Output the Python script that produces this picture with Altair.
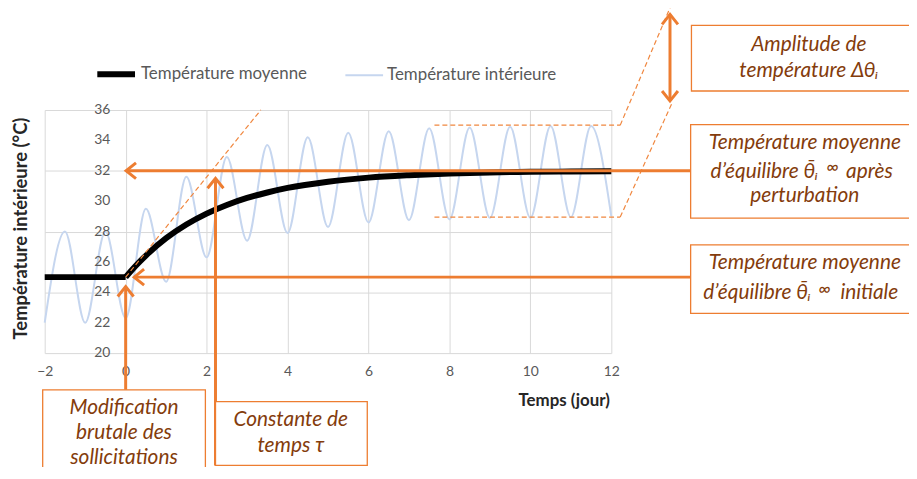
import altair as alt
import pandas as pd

# ---------------- values ----------------
series_names = ["Température moyenne", "Température intérieure"]
series_colors = ["#000000", "#C6D6EF"]
series_widths = [6, 2]

# interior temperature: successive troughs / peaks (day, °C)
int_t = [-2, -1.5, -1, -0.5, 0, 0.5, 1, 1.5, 2, 2.5, 3, 3.5, 4, 4.5, 5, 5.5,
         6, 6.5, 7, 7.5, 8, 8.5, 9, 9.5, 10, 10.5, 11, 11.5, 12]
int_v = [22.0, 28.0, 22.0, 28.0, 22.3, 29.5, 24.7, 31.6, 26.3, 32.9, 27.4, 33.7,
         27.9, 34.2, 28.3, 34.5, 28.6, 34.6, 28.75, 34.8, 28.8, 34.85, 28.9,
         34.9, 28.9, 34.95, 28.95, 34.95, 29.0]

# mean temperature (flat part, then the rise after the step)
mean_flat_t = [-2, 0]
mean_flat_v = [25.0, 25.0]
mean_rise_t = [0, 0.25, 0.5, 1, 1.5, 2, 2.5, 3, 3.5, 4, 5, 6, 7, 8, 9, 10, 11, 12]
mean_rise_v = [25.0, 25.75, 26.42, 27.56, 28.46, 29.18, 29.75, 30.21, 30.57,
               30.87, 31.28, 31.55, 31.71, 31.82, 31.89, 31.93, 31.95, 31.97]

x_ticks = [-2, 0, 2, 4, 6, 8, 10, 12]
y_ticks = [20, 22, 24, 26, 28, 30, 32, 34, 36]
y_label_t = -0.38   # the value axis crosses the time axis at 0

# annotation arrows (data units)
arrow_t1 = [0.01, 0.21, 0.0, 2.22, 13.45]
arrow_v1 = [32.0, 25.0, 24.38, 31.5, 42.29]
arrow_t2 = [13.96, 13.96, 0.0, 2.22, 13.45]
arrow_v2 = [32.0, 25.0, 17.58, 12.61, 36.6]

head_t = [0.01, 0.21, 0.0, 2.22, 13.45, 13.45]
head_v = [32.0, 25.0, 24.38, 31.5, 42.29, 36.6]
head_dir = ["left", "left", "up", "up", "up", "down"]

# dashed construction lines
dash_t1 = [0.0, 7.63, 12.22, 7.63, 12.22]
dash_v1 = [25.0, 35.0, 35.0, 28.95, 28.95]
dash_t2 = [3.34, 12.22, 13.51, 12.22, 13.49]
dash_v2 = [36.0, 35.0, 43.1, 28.95, 36.4]

# text boxes
box_t1 = [13.98, 13.96, 13.96, -2.05, 2.22]
box_t2 = [19.9, 19.9, 19.9, 1.97, 5.97]
box_v1 = [41.57, 35.03, 27.12, 17.58, 16.8]
box_v2 = [37.25, 28.89, 22.61, 10.0, 12.61]

theta = "\u03b8\u0304\u1d62"
center_t = [16.88, 16.88, 16.78, 16.78, 16.78, -0.04, -0.04, -0.04, 4.08, 4.08]
center_v = [40.26, 38.56, 33.81, 30.33, 25.92, 16.36, 14.71, 13.07, 15.58, 13.86]
center_txt = ["Amplitude de", "température \u0394\u03b8\u1d62",
              "Température moyenne", "perturbation", "Température moyenne",
              "Modification", "brutale des", "sollicitations",
              "Constante de", "temps \u03c4"]
right_t = [17.11, 16.93]
right_v = [31.90, 23.92]
right_txt = ["d\u2019équilibre " + theta, "d\u2019équilibre " + theta]
left_t = [17.80, 17.66]
left_v = [31.90, 23.92]
left_txt = ["après", "initiale"]
sup_t = [17.47, 17.27]
sup_v = [32.16, 24.12]
sup_txt = ["\u221e", "\u221e"]

# ---------------- chart ----------------
ORANGE = "#ED7D31"
BROWN = "#843C0C"

xs = alt.Scale(domain=[-2, 12], nice=False, zero=False)
ys = alt.Scale(domain=[20, 36], nice=False, zero=False)

x_axis = alt.Axis(values=x_ticks, title="Temps (jour)", grid=True, gridColor="#D9D9D9",
                  domain=False, ticks=False, tickSize=0, labelFlush=False,
                  labelOverlap=False,
                  labelFontSize=14, labelColor="#595959", labelPadding=12,
                  titleFontSize=17, titleFontWeight="bold", titleColor="#262626",
                  titleX=569, titleY=53, titleAlign="right", titleBaseline="alphabetic")
y_axis = alt.Axis(values=y_ticks, title="Température intérieure (°C)", grid=True,
                  gridColor="#D9D9D9", domain=False, ticks=False, tickSize=0,
                  labels=False,
                  titleFontSize=18.5, titleFontWeight="bold", titleColor="#262626",
                  titleX=-24, titleY=119, titleAngle=270, titleAlign="center",
                  titleBaseline="middle")

leg = alt.Legend(orient="none", legendX=50, legendY=-58, direction="horizontal",
                 title=None, symbolType="stroke", symbolSize=1444,
                 labelFontSize=17, labelColor="#595959", labelOffset=3,
                 labelLimit=400, columnPadding=34, padding=0)

color_enc = alt.Color("series:N", scale=alt.Scale(domain=series_names, range=series_colors), legend=leg)
width_enc = alt.StrokeWidth("series:N", scale=alt.Scale(domain=series_names, range=series_widths), legend=leg)

int_df = pd.DataFrame({"t": int_t, "v": int_v, "series": series_names[1], "seg": "int"})
mean_df = pd.concat([
    pd.DataFrame({"t": mean_flat_t, "v": mean_flat_v, "series": series_names[0], "seg": "flat"}),
    pd.DataFrame({"t": mean_rise_t, "v": mean_rise_v, "series": series_names[0], "seg": "rise"}),
])

blue = alt.Chart(int_df).mark_line(interpolate="monotone").encode(
    x=alt.X("t:Q", scale=xs, axis=x_axis),
    y=alt.Y("v:Q", scale=ys, axis=y_axis),
    color=color_enc, strokeWidth=width_enc, detail="seg:N")

black = alt.Chart(mean_df).mark_line(interpolate="monotone", strokeCap="butt").encode(
    x=alt.X("t:Q"), y=alt.Y("v:Q"),
    color=color_enc, strokeWidth=width_enc, detail="seg:N")

ylab_df = pd.DataFrame({"t": y_label_t, "v": y_ticks, "lab": [str(v) for v in y_ticks]})
ylabels = alt.Chart(ylab_df).mark_text(align="right", baseline="middle", fontSize=14,
                                       color="#595959").encode(
    x="t:Q", y="v:Q", text="lab:N")

dash_df = pd.DataFrame({"t": dash_t1, "v": dash_v1, "t2": dash_t2, "v2": dash_v2})
dashed = alt.Chart(dash_df).mark_rule(color="#F0873F", strokeWidth=1.2, strokeDash=[5, 3]).encode(
    x="t:Q", y="v:Q", x2="t2:Q", y2="v2:Q")

arrow_df = pd.DataFrame({"t": arrow_t1, "v": arrow_v1, "t2": arrow_t2, "v2": arrow_v2})
arrows = alt.Chart(arrow_df).mark_rule(color=ORANGE, strokeWidth=3).encode(
    x="t:Q", y="v:Q", x2="t2:Q", y2="v2:Q")

head_df = pd.DataFrame({"t": head_t, "v": head_v, "dir": head_dir})
heads = alt.Chart(head_df).mark_point(filled=False, stroke=ORANGE, strokeWidth=3,
                                      opacity=1, size=400).encode(
    x="t:Q", y="v:Q",
    shape=alt.Shape("dir:N", scale=alt.Scale(
        domain=["left", "up", "down"],
        range=["M1,-0.8L0,0L1,0.8", "M-0.8,1L0,0L0.8,1", "M-0.8,-1L0,0L0.8,-1"]),
        legend=None))

box_df = pd.DataFrame({"t": box_t1, "t2": box_t2, "v": box_v1, "v2": box_v2})
boxes = alt.Chart(box_df).mark_rect(fill="white", stroke=ORANGE, strokeWidth=1.3).encode(
    x="t:Q", x2="t2:Q", y="v:Q", y2="v2:Q")


def texts(ts, vs, txt, align, size=21):
    df = pd.DataFrame({"t": ts, "v": vs, "txt": txt})
    return alt.Chart(df).mark_text(align=align, baseline="middle", fontSize=size,
                                   fontStyle="italic", color=BROWN).encode(
        x="t:Q", y="v:Q", text="txt:N")


chart = alt.layer(
    blue, ylabels, black, dashed, arrows, heads, boxes,
    texts(center_t, center_v, center_txt, "center"),
    texts(right_t, right_v, right_txt, "right"),
    texts(left_t, left_v, left_txt, "left"),
    texts(sup_t, sup_v, sup_txt, "center", size=18),
).properties(
    width=571, height=245,
    autosize=alt.AutoSizeParams(type="none"),
    padding={"left": 37, "top": 101, "right": 300, "bottom": 113},
).configure(font="Lato").configure_view(stroke=None)

chart.save("out.html", embed_options={"renderer": "svg", "actions": False})
